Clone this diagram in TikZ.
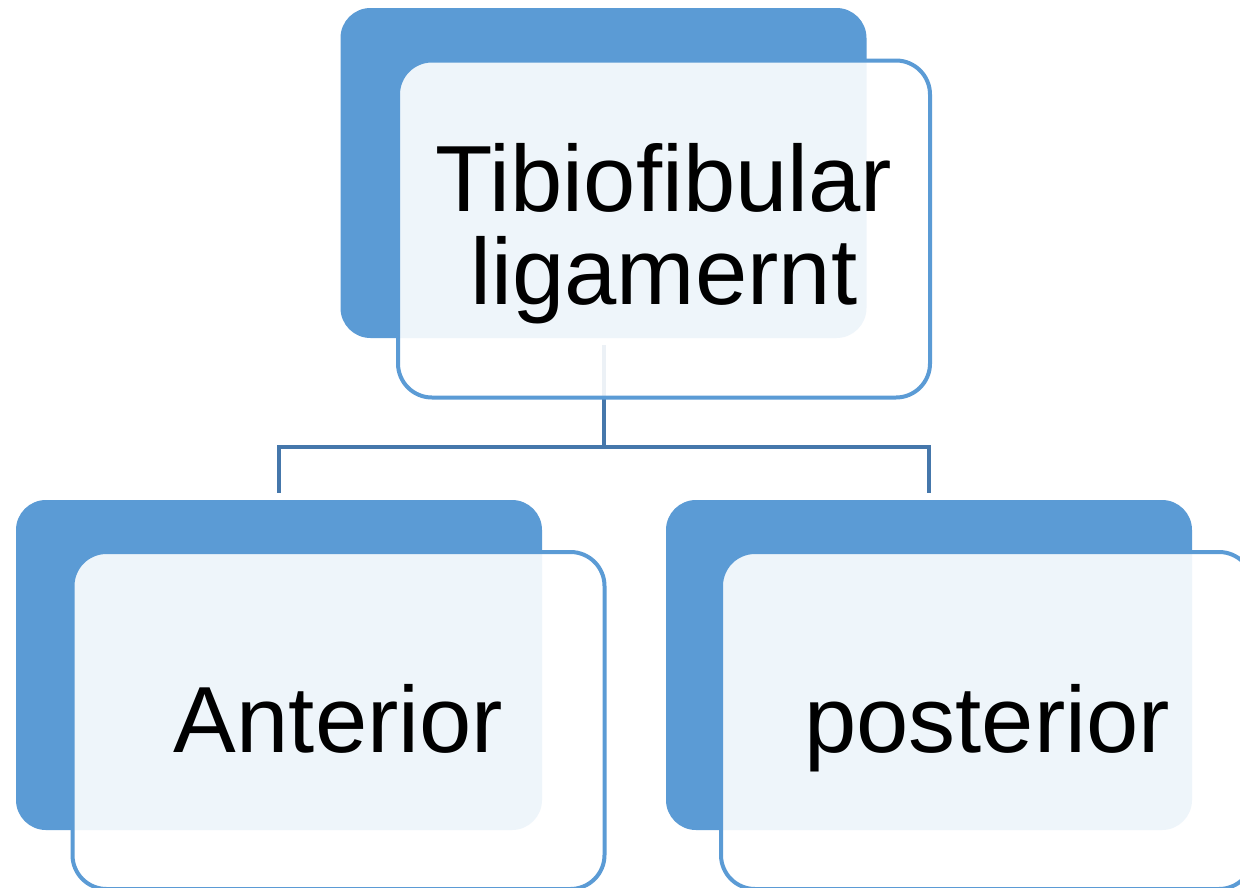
\documentclass[tikz,border=0pt]{standalone}
\usepackage{fontspec}
\setmainfont{Liberation Sans}
\usetikzlibrary{calc}
\definecolor{darkfill}{HTML}{5B9BD5}
\definecolor{connc}{HTML}{4577AB}
\tikzset{
  backbox/.style={draw=none, fill=darkfill, rounded corners=30pt, minimum width=526pt, minimum height=330pt, inner sep=0pt},
  frontbox/.style={draw=darkfill, line width=4pt, fill=white, fill opacity=0.9, rounded corners=34pt, minimum width=532pt, minimum height=337pt, inner sep=0pt},
  lbl/.style={text=black, inner sep=0pt, align=center, font=\fontsize{94}{93}\selectfont},
  conn/.style={draw=connc, line width=4pt}
}
\begin{document}
\begin{tikzpicture}[x=1pt,y=-1pt]
\useasboundingbox (0,0) rectangle (1240,887);
\clip (0,0) rectangle (1240,887);
\fill[white] (0,0) rectangle (1240,887);
% back boxes
\node[backbox] (t1) at (603.5,173) {};
\node[backbox] (a1) at (279,665) {};
\node[backbox] (p1) at (929,665) {};
% connectors
\coordinate (j) at (603.5,447);
\draw[conn] ([yshift=-7pt]t1.south) -- (j);
\draw[conn] ([yshift=7pt]a1.north) |- (j) -| ([yshift=7pt]p1.north);
% front boxes
\node[frontbox] (t2) at (664,229) {};
\node[frontbox] (a2) at (338.5,720.5) {};
\node[frontbox] (p2) at (987,720.5) {};
% labels
\node[lbl] (t3) at ([yshift=-4.5pt]t2.center) {Tibiofibular\\ligamernt};
\node[lbl, anchor=base] (a3) at (338.5,752) {Anterior};
\node[lbl, anchor=base] (p3) at (987,752) {posterior};
\end{tikzpicture}
\end{document}
